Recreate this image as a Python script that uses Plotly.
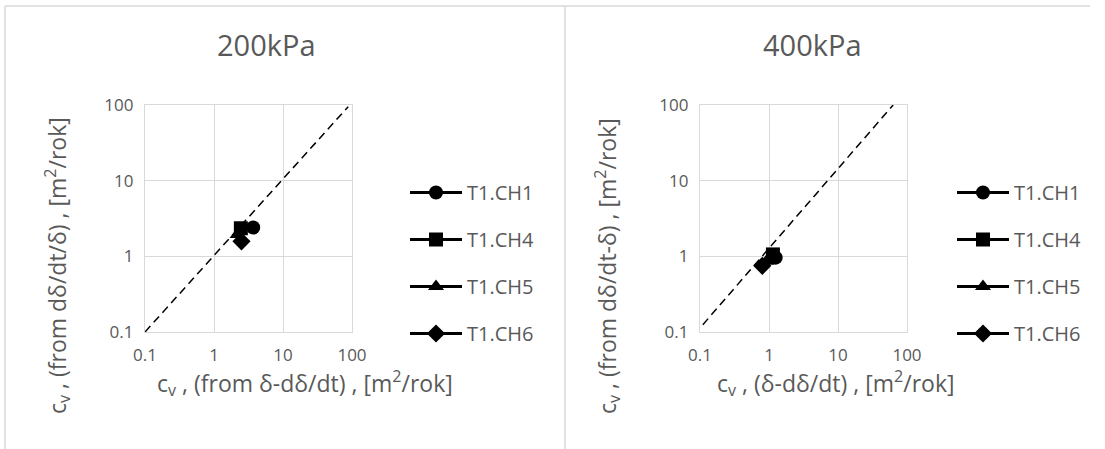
import plotly.graph_objects as go

W, H = 1105, 449

# ---- data ----
series_names = ["T1.CH1", "T1.CH4", "T1.CH5", "T1.CH6"]
symbols = ["circle", "square", "triangle-up", "diamond"]

p200_x = [3.7, 2.45, 2.2, 2.5]
p200_y = [2.4, 2.35, 1.95, 1.58]

p400_x = [1.25, 1.14, 0.92, 0.8]
p400_y = [0.96, 1.06, 0.86, 0.75]

ref200_x = [0.1, 88]
ref200_y = [0.1, 95]
ref400_x = [0.11, 63]
ref400_y = [0.125, 100]

tick_vals = [0.1, 1, 10, 100]
tick_text = ["0.1", "1", "10", "100"]

titles = ["200kPa", "400kPa"]
x_titles = ["c<sub>v</sub> , (from δ-dδ/dt) , [m<sup>2</sup>/rok]",
            "c<sub>v</sub> , (δ-dδ/dt) , [m<sup>2</sup>/rok]"]
y_titles = ["c<sub>v</sub> , (from dδ/dt/δ) , [m<sup>2</sup>/rok]",
            "c<sub>v</sub> , (from dδ/dt-δ) , [m<sup>2</sup>/rok]"]

FONT = "Open Sans"
TXT = "#595959"
GRID = "#D9D9D9"

fig = go.Figure()

def px(x):
    return x / W

def py(y):
    return 1 - y / H

panels = [
    dict(xa="x", ya="y", leg="legend", xs=p200_x, ys=p200_y, rx=ref200_x, ry=ref200_y),
    dict(xa="x2", ya="y2", leg="legend2", xs=p400_x, ys=p400_y, rx=ref400_x, ry=ref400_y),
]

for p in panels:
    fig.add_trace(go.Scatter(x=p["rx"], y=p["ry"], mode="lines",
                             line=dict(color="black", width=1.5, dash="8px,5px"),
                             showlegend=False, xaxis=p["xa"], yaxis=p["ya"],
                             hoverinfo="skip"))
    for i, name in enumerate(series_names):
        fig.add_trace(go.Scatter(x=[p["xs"][i]], y=[p["ys"][i]], mode="lines+markers",
                                 name=name, legendgroup=p["leg"] + name,
                                 line=dict(color="black", width=3),
                                 marker=dict(symbol=symbols[i], size=14, color="black"),
                                 xaxis=p["xa"], yaxis=p["ya"], legend=p["leg"]))

axis_common = dict(type="log", range=[-1, 2], tickvals=tick_vals, ticktext=tick_text,
                   showgrid=True, gridcolor=GRID, gridwidth=1.3,
                   showline=True, linecolor=GRID, linewidth=1.3, mirror=True,
                   zeroline=False, ticks="", ticklabelstandoff=7, automargin=False,
                   tickfont=dict(family=FONT, size=17, color=TXT))

ydom = [py(332), py(105)]
legend_common = dict(xanchor="left", yanchor="top", itemwidth=52,
                     font=dict(family=FONT, size=20, color=TXT),
                     tracegroupgap=18, bgcolor="rgba(0,0,0,0)")
fig.update_layout(
    width=W, height=H, margin=dict(l=0, r=0, t=0, b=0, pad=0, autoexpand=False),
    paper_bgcolor="white", plot_bgcolor="white",
    xaxis=dict(domain=[px(145), px(352)], anchor="y", **axis_common),
    yaxis=dict(domain=ydom, anchor="x", **axis_common),
    xaxis2=dict(domain=[px(700), px(907)], anchor="y2", **axis_common),
    yaxis2=dict(domain=ydom, anchor="x2", **axis_common),
    legend=dict(x=px(405), y=py(173), **legend_common),
    legend2=dict(x=px(952), y=py(173), **legend_common),
    showlegend=True,
)

# panel borders
fig.add_shape(type="line", xref="paper", yref="paper", x0=px(5), x1=px(1090), y0=py(6), y1=py(6),
              line=dict(color=GRID, width=1.5))
fig.add_shape(type="line", xref="paper", yref="paper", x0=px(5), x1=px(5), y0=py(6), y1=py(449),
              line=dict(color=GRID, width=1.5))
fig.add_shape(type="line", xref="paper", yref="paper", x0=px(565), x1=px(565), y0=py(6), y1=py(449),
              line=dict(color=GRID, width=1.5))

# titles and axis titles
title_x = [266, 812]
xt_x = [305, 836]
yt_x = [57, 607]
for k in range(2):
    fig.add_annotation(text=titles[k], x=px(title_x[k]), y=py(44), xref="paper", yref="paper",
                       showarrow=False, font=dict(family=FONT, size=29, color=TXT),
                       xanchor="center", yanchor="middle")
    fig.add_annotation(text=x_titles[k], x=px(xt_x[k]), y=py(383), xref="paper", yref="paper",
                       showarrow=False, font=dict(family=FONT, size=23, color=TXT),
                       xanchor="center", yanchor="middle")
    fig.add_annotation(text=y_titles[k], x=px(yt_x[k]), y=py(266), xref="paper", yref="paper",
                       showarrow=False, font=dict(family=FONT, size=23, color=TXT),
                       textangle=-90, xanchor="center", yanchor="middle")

fig.write_html("out.html", config={"displayModeBar": False},
               post_script="document.body.style.margin='0px';document.body.style.overflow='hidden';")
